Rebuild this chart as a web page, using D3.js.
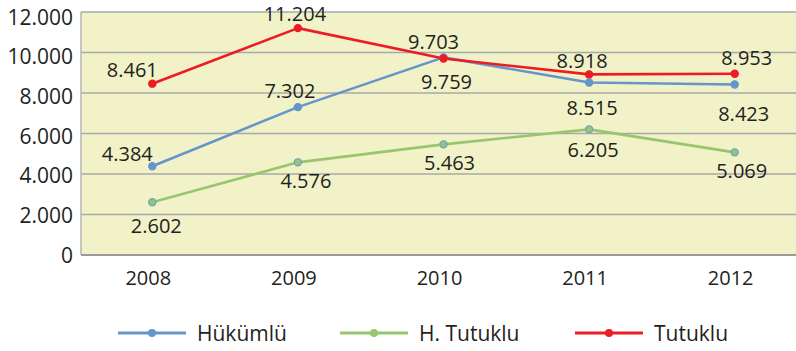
<!DOCTYPE html>
<html>
<head>
<meta charset="utf-8">
<script src="https://cdn.jsdelivr.net/npm/d3@7"></script>
<style>
  html, body { margin: 0; padding: 0; background: #ffffff; }
  svg { display: block; font-family: "Open Sans", "Noto Sans", sans-serif; }
</style>
</head>
<body>
<svg id="chart" width="796" height="351"></svg>
<script>
// Prison population by year
const years = ["2008", "2009", "2010", "2011", "2012"];
const hukumlu = [4384, 7302, 9759, 8515, 8423];   // Hükümlü
const hTutuklu = [2602, 4576, 5463, 6205, 5069];  // H. Tutuklu
const tutuklu = [8461, 11204, 9703, 8918, 8953];  // Tutuklu
const yTicks = [0, 2000, 4000, 6000, 8000, 10000, 12000];
const seriesNames = ["Hükümlü", "H. Tutuklu", "Tutuklu"];

// label nudges (dx, dy) relative to each point
const nudgeHukumlu = [[-25, -12], [-8, -16], [3, 24], [3, 25], [9, 29]];
const nudgeHTutuklu = [[4, 23], [8, 18], [6, 18], [4, 20], [7, 18]];
const nudgeTutuklu = [[-20, -14], [-3, -14.5], [-10, -17], [-7, -14], [12, -16]];

const series = [
  { name: seriesNames[0], values: hukumlu, color: "#6595cb", markFill: "#6595cb", markStroke: "#6595cb", nudge: nudgeHukumlu },
  { name: seriesNames[1], values: hTutuklu, color: "#98c66e", markFill: "#98c66e", markStroke: "#6d9bd3", nudge: nudgeHTutuklu },
  { name: seriesNames[2], values: tutuklu, color: "#ed1c24", markFill: "#ed1c24", markStroke: "#ed1c24", nudge: nudgeTutuklu }
];

const tr = d3.formatLocale({ decimal: ",", thousands: ".", grouping: [3], currency: ["", ""] });
const fmt = tr.format(",d");

const svg = d3.select("#chart");
const plot = { left: 81, right: 810, top: 12, bottom: 255 };

const x = d3.scalePoint().domain(years).range([152.3, 734.7]);
const y = d3.scaleLinear().domain([0, 12000]).range([plot.bottom, plot.top]);
const yLab = d3.scaleLinear().domain([0, 12000]).range([plot.bottom, 17]);

// plot background
svg.append("rect")
  .attr("x", plot.left).attr("y", plot.top)
  .attr("width", plot.right - plot.left).attr("height", plot.bottom - plot.top)
  .attr("fill", "#f1f2c8");

// gridlines
svg.append("g").selectAll("line").data(yTicks.filter(d => d > 0)).join("line")
  .attr("x1", plot.left).attr("x2", plot.right)
  .attr("y1", d => y(d)).attr("y2", d => y(d))
  .attr("stroke", "#a9a9a9").attr("stroke-width", 1.5);

// left edge and baseline
svg.append("line")
  .attr("x1", plot.left).attr("x2", plot.left)
  .attr("y1", plot.top).attr("y2", plot.bottom)
  .attr("stroke", "#b4b4b4").attr("stroke-width", 1.5);
svg.append("line")
  .attr("x1", plot.left).attr("x2", plot.right)
  .attr("y1", plot.bottom).attr("y2", plot.bottom)
  .attr("stroke", "#9a9a9a").attr("stroke-width", 2);

// y tick labels
svg.append("g").selectAll("text").data(yTicks).join("text")
  .attr("x", 73).attr("y", d => yLab(d)).attr("dy", "0.36em")
  .attr("text-anchor", "end")
  .attr("font-size", 21).attr("fill", "#231f20")
  .text(d => fmt(d));

// x tick labels
svg.append("g").selectAll("text").data(years).join("text")
  .attr("x", d => x(d) - 4).attr("y", 278).attr("dy", "0.36em")
  .attr("text-anchor", "middle")
  .attr("font-size", 20).attr("fill", "#231f20")
  .text(d => d);

// lines and markers
const line = d3.line().x((d, i) => x(years[i])).y(d => y(d));
series.forEach(s => {
  const g = svg.append("g");
  g.append("path").datum(s.values)
    .attr("d", line).attr("fill", "none")
    .attr("stroke", s.color).attr("stroke-width", 2.6)
    .attr("stroke-linejoin", "round");
  g.selectAll("circle").data(s.values).join("circle")
    .attr("cx", (d, i) => x(years[i])).attr("cy", d => y(d))
    .attr("r", 3.6)
    .attr("fill", s.markFill).attr("stroke", s.markStroke).attr("stroke-width", 1.2);
});

// value labels
series.forEach(s => {
  svg.append("g").selectAll("text").data(s.values).join("text")
    .attr("x", (d, i) => x(years[i]) + s.nudge[i][0])
    .attr("y", (d, i) => y(d) + s.nudge[i][1])
    .attr("dy", "0.36em")
    .attr("text-anchor", "middle")
    .attr("font-size", 20).attr("fill", "#231f20")
    .text(d => fmt(d));
});

// legend
const legendX = [118, 340, 575];
const legendY = 333;
const legend = svg.append("g");
series.forEach((s, i) => {
  const g = legend.append("g").attr("transform", `translate(${legendX[i]},${legendY})`);
  g.append("line").attr("x1", 0).attr("x2", 68).attr("y1", 0).attr("y2", 0)
    .attr("stroke", s.color).attr("stroke-width", 3);
  g.append("circle").attr("cx", 34).attr("cy", 0).attr("r", 4)
    .attr("fill", s.color);
  g.append("text").attr("x", 79).attr("y", 0).attr("dy", "0.36em")
    .attr("font-size", 21).attr("fill", "#231f20")
    .text(s.name);
});
</script>
</body>
</html>
